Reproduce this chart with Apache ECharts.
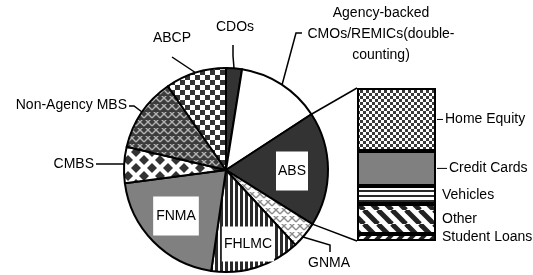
<!DOCTYPE html>
<html>
<head>
<meta charset="utf-8">
<script src="https://cdn.jsdelivr.net/npm/echarts@6/dist/echarts.min.js"></script>
<style>
html, body { margin: 0; padding: 0; background: #fff; }
#contain { width: 533px; height: 275px; }
</style>
</head>
<body>
<div id="contain"></div>
<script>
// pie slices, clockwise from 12 o'clock (share of total, %)
var pieNames = ['CDOs', 'Agency-backed\nCMOs/REMICs(double-\ncounting)', 'ABS', 'GNMA', 'FHLMC', 'FNMA', 'CMBS', 'Non-Agency MBS', 'ABCP'];
var pieValues = [2.5, 13.2, 18.0, 4.2, 14.1, 20.5, 5.7, 11.6, 9.6];

// breakdown of ABS, bottom to top (%)
var absNames = ['Student Loans', 'Other', 'Vehicles', 'Credit Cards', 'Home Equity'];
var absValues = [4.6, 19.6, 11.8, 22.9, 41.1];

var FONT = '"Liberation Sans", Arial, sans-serif';
var FSIZE = 14;
var pieCenter = [226, 170];
var pieRadius = 102;
var barBox = { left: 357, top: 88, width: 79, height: 153 };

// fill patterns
function pat(w, h, draw) {
    var c = document.createElement('canvas');
    c.width = w; c.height = h;
    var g = c.getContext('2d');
    g.fillStyle = '#fff';
    g.fillRect(0, 0, w, h);
    draw(g, w, h);
    return { image: c, repeat: 'repeat' };
}
function checker(cell, dark) {
    return pat(cell * 2, cell * 2, function (g) {
        g.fillStyle = dark;
        g.fillRect(0, 0, cell, cell);
        g.fillRect(cell, cell, cell, cell);
    });
}
function diag(p, lw, dir) {
    return pat(p, p, function (g) {
        g.strokeStyle = '#222';
        g.lineWidth = lw;
        for (var k = -1; k <= 1; k++) {
            g.beginPath();
            if (dir > 0) { g.moveTo(k * p, p); g.lineTo(k * p + p, 0); }
            else { g.moveTo(k * p, 0); g.lineTo(k * p + p, p); }
            g.stroke();
        }
    });
}
function zigzag(bg, fg) {
    return pat(8, 8, function (g) {
        g.fillStyle = bg;
        g.fillRect(0, 0, 8, 8);
        g.strokeStyle = fg;
        g.lineWidth = 1.3;
        g.beginPath();
        g.moveTo(0, 6); g.lineTo(4, 2); g.lineTo(8, 6);
        g.stroke();
        g.beginPath();
        g.moveTo(-4, 2); g.lineTo(0, -2); g.lineTo(4, 2);
        g.moveTo(4, 2); g.lineTo(8, -2); g.lineTo(12, 2);
        g.stroke();
    });
}

var pieFills = {
    'CDOs': '#333333',
    'ABS': '#333333',
    'FNMA': '#808080',
    'GNMA': zigzag('#ffffff', '#8a8a8a'),
    'FHLMC': pat(5, 4, function (g) { g.fillStyle = '#2a2a2a'; g.fillRect(0, 0, 3, 4); }),
    'CMBS': pat(16, 16, function (g) {
        g.fillStyle = '#333';
        var pts = [[0, 0], [16, 0], [0, 16], [16, 16], [8, 8]];
        pts.forEach(function (q) {
            g.beginPath();
            g.moveTo(q[0] - 5, q[1]); g.lineTo(q[0], q[1] - 5);
            g.lineTo(q[0] + 5, q[1]); g.lineTo(q[0], q[1] + 5);
            g.closePath(); g.fill();
        });
    }),
    'Non-Agency MBS': zigzag('#3c3c3c', '#b4b4b4'),
    'ABCP': checker(5, '#333333')
};
var barFills = {
    'Home Equity': checker(3, '#3a3a3a'),
    'Credit Cards': '#808080',
    'Vehicles': pat(4, 5, function (g) { g.fillStyle = '#2a2a2a'; g.fillRect(0, 0, 4, 2); }),
    'Other': diag(14, 5, -1),
    'Student Loans': diag(11, 4, 1)
};

// label spots for the pie (anchor point of text, leader line from slice edge)
var labelSpots = {
    'CDOs': { x: 235, y: 27, line: [[234, 68], [233, 56], [233, 45]] },
    'ABCP': { x: 172, y: 38, line: [[196, 73], [184, 65], [172, 57]] },
    'Non-Agency MBS': { x: 127, y: 105, align: 'right', line: [[142, 112], [134, 106], [129, 106]] },
    'CMBS': { x: 94, y: 164, align: 'right', line: [[124, 164], [110, 164], [96, 164]] },
    'GNMA': { x: 329, y: 263, line: [[303, 237], [330, 245], [330, 252]] },
    'ABS': { x: 292, y: 171 },
    'FNMA': { x: 176, y: 216 },
    'FHLMC': { x: 248, y: 244 }
};
labelSpots[pieNames[1]] = { x: 381, y: 34, line: [[282, 85], [296, 33], [302, 33]] };

var insideNames = { 'ABS': [9, 2], 'FNMA': [9, 3], 'FHLMC': [7, 2] };

var pieData = pieNames.map(function (n, i) {
    var item = { name: n, value: pieValues[i], itemStyle: { color: pieFills[n] || '#ffffff' } };
    if (insideNames[n]) {
        item.label = { backgroundColor: '#fff', padding: insideNames[n] };
        item.labelLine = { show: false };
    }
    return item;
});

// connector lines from the ABS slice edge to the bar
var total = pieValues.reduce(function (a, b) { return a + b; }, 0);
var before = 0;
for (var i = 0; i < pieNames.indexOf('ABS'); i++) before += pieValues[i];
var a0 = before / total * Math.PI * 2;
var a1 = (before + pieValues[pieNames.indexOf('ABS')]) / total * Math.PI * 2;
function edge(a) {
    return [pieCenter[0] + pieRadius * Math.sin(a), pieCenter[1] - pieRadius * Math.cos(a)];
}
var e0 = edge(a0), e1 = edge(a1);

var dashLen = { 'Home Equity': 6, 'Credit Cards': 10 };
var absTotal = absValues.reduce(function (a, b) { return a + b; }, 0);
var barSeries = absNames.map(function (n, i) {
    var d = dashLen[n];
    return {
        type: 'bar',
        name: n,
        stack: 'abs',
        barWidth: '100%',
        data: [absValues[i]],
        itemStyle: { color: barFills[n], borderColor: '#000', borderWidth: 2 },
        label: {
            show: true, position: 'right', distance: d ? 1 : 6,
            color: '#000', fontSize: FSIZE, fontFamily: FONT,
            formatter: d ? '{d|}{t|' + n + '}' : n,
            rich: {
                d: { width: d || 0, height: 1, backgroundColor: '#000' },
                t: { fontSize: FSIZE, fontFamily: FONT, color: '#000', padding: [0, 0, 0, 2] }
            }
        },
        emphasis: { disabled: true },
        animation: false
    };
});

var myChart = echarts.init(document.getElementById('contain'));
var option = {
    backgroundColor: '#fff',
    animation: false,
    grid: { left: barBox.left, top: barBox.top, width: barBox.width, height: barBox.height },
    xAxis: { type: 'category', data: ['ABS'], show: false },
    yAxis: { type: 'value', min: 0, max: absTotal, show: false },
    graphic: [
        { type: 'polyline', shape: { points: [e0, [barBox.left, barBox.top]] }, style: { stroke: '#000', lineWidth: 1.5, fill: null } },
        { type: 'polyline', shape: { points: [e1, [barBox.left, barBox.top + barBox.height]] }, style: { stroke: '#000', lineWidth: 1.5, fill: null } }
    ],
    series: [{
        type: 'pie',
        center: pieCenter,
        radius: pieRadius,
        startAngle: 90,
        clockwise: true,
        avoidLabelOverlap: false,
        data: pieData,
        itemStyle: { borderColor: '#000', borderWidth: 2 },
        label: { show: true, position: 'outside', color: '#000', fontSize: FSIZE, fontFamily: FONT, lineHeight: 21, align: 'center' },
        labelLine: { show: true, lineStyle: { color: '#000', width: 1.5 } },
        labelLayout: function (p) {
            var s = labelSpots[pieNames[p.dataIndex]];
            if (!s) return {};
            var out = { x: s.x, y: s.y, align: s.align || 'center', verticalAlign: 'middle' };
            if (s.line) out.labelLinePoints = s.line;
            return out;
        },
        emphasis: { disabled: true }
    }].concat(barSeries)
};
myChart.setOption(option);
</script>
</body>
</html>
